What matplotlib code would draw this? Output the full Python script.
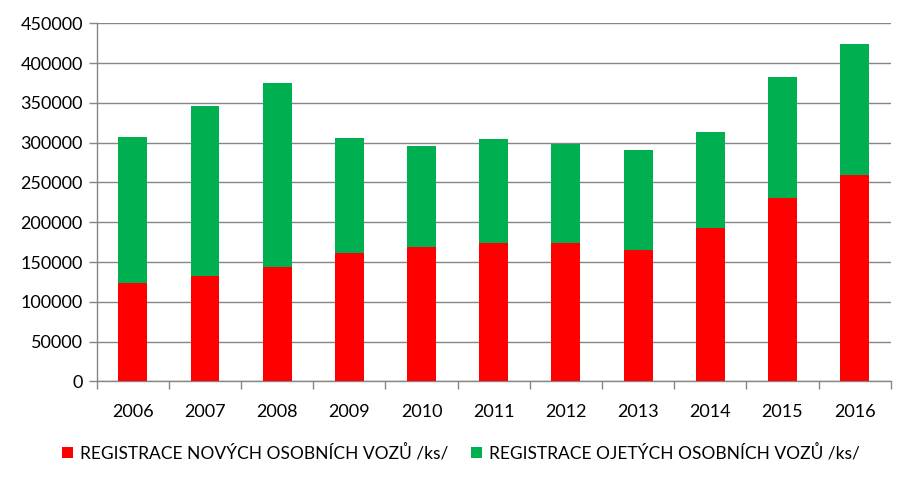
import numpy as np
import matplotlib.pyplot as plt

years = ['2006', '2007', '2008', '2009', '2010', '2011',
         '2012', '2013', '2014', '2015', '2016']
nove = [124000, 132500, 144200, 161800, 169300, 174300,
        174300, 165500, 193200, 230900, 259400]
ojete = [183000, 213500, 231100, 144000, 126500, 130300,
         124000, 125300, 120200, 151500, 164500]
labels = ['REGISTRACE NOVÝCH OSOBNÍCH VOZŮ /ks/',
          'REGISTRACE OJETÝCH OSOBNÍCH VOZŮ /ks/']

plt.rcParams['font.family'] = ['Lato', 'DejaVu Sans']

fig = plt.figure(figsize=(9.13, 4.84), dpi=100)
ax = fig.add_axes([0.106, 0.212, 0.8696, 0.740])

x = np.arange(len(years))
ax.bar(x, nove, width=0.4, color='#ff0000', label=labels[0], zorder=3)
ax.bar(x, ojete, width=0.4, bottom=nove, color='#00b050', label=labels[1], zorder=3)

grey = '#868686'
ax.set_ylim(0, 450000)
ax.set_yticks(np.arange(0, 450001, 50000))
ax.yaxis.grid(True, color=grey, linewidth=1, zorder=0)
ax.set_xlim(-0.5, len(years) - 0.5)
ax.set_xticks(x)
ax.set_xticklabels(years)
ax.set_xticks(np.arange(-0.5, len(years)), minor=True)
ax.tick_params(axis='x', which='major', length=0, pad=16, labelsize=13)
ax.tick_params(axis='x', which='minor', length=6, color=grey, width=1)
ax.tick_params(axis='y', length=6, color=grey, width=1, pad=4, labelsize=13)

for s in ['top', 'right']:
    ax.spines[s].set_visible(False)
for s in ['left', 'bottom']:
    ax.spines[s].set_color(grey)
    ax.spines[s].set_linewidth(1)

fig.legend(loc='center', bbox_to_anchor=(0.505, 0.064), ncol=2, frameon=False,
           fontsize=12.5, handlelength=0.65, handleheight=0.65,
           handletextpad=0.4, columnspacing=1.3)

fig.savefig('out.png', dpi=100)
